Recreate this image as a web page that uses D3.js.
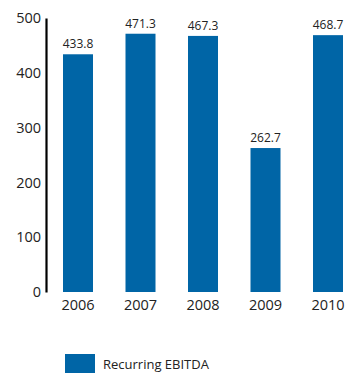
<!DOCTYPE html>
<html>
<head>
<meta charset="utf-8">
<script src="https://cdn.jsdelivr.net/npm/d3@7"></script>
<style>
  html, body { margin: 0; padding: 0; background: #fff; }
  text { font-family: "Open Sans", "Noto Sans", sans-serif; fill: #222; }
</style>
</head>
<body>
<svg id="chart" width="350" height="380"></svg>
<script>
// Recurring EBITDA by year
const years = ["2006", "2007", "2008", "2009", "2010"];
const ebitda = [433.8, 471.3, 467.3, 262.7, 468.7];
const yTicks = [0, 100, 200, 300, 400, 500];
const seriesName = "Recurring EBITDA";

const barColor = "#0065a6";
const svg = d3.select("#chart");

const x = d3.scaleBand()
  .domain(years)
  .range([47, 359])
  .paddingInner(0.52)
  .paddingOuter(0.256);

const y = d3.scaleLinear()
  .domain([0, 500])
  .range([292, 18]);

// Y axis: plain vertical rule with labels, no tick marks
const yAxis = svg.append("g")
  .attr("transform", "translate(46,0)")
  .call(d3.axisLeft(y).tickValues(yTicks).tickSize(0).tickPadding(5));
yAxis.select(".domain").attr("stroke", "#000").attr("stroke-width", 2.2);
yAxis.selectAll("text")
  .style("font-size", "14.5px")
  .attr("fill", "#222");

// Bars
svg.append("g").selectAll("rect")
  .data(years.map((yr, i) => ({ yr, v: ebitda[i] })))
  .join("rect")
  .attr("x", d => x(d.yr))
  .attr("y", d => y(d.v))
  .attr("width", x.bandwidth())
  .attr("height", d => y(0) - y(d.v))
  .attr("fill", barColor);

// Value labels above bars
svg.append("g").selectAll("text")
  .data(years.map((yr, i) => ({ yr, v: ebitda[i] })))
  .join("text")
  .attr("x", d => x(d.yr) + x.bandwidth() / 2)
  .attr("y", d => y(d.v) - 6)
  .attr("text-anchor", "middle")
  .style("font-size", "12px")
  .attr("fill", "#333")
  .text(d => d3.format(".1f")(d.v));

// X axis labels
const xAxis = svg.append("g")
  .attr("transform", "translate(0,292)")
  .call(d3.axisBottom(x).tickSize(0).tickPadding(8));
xAxis.select(".domain").remove();
xAxis.selectAll("text")
  .style("font-size", "14.5px")
  .attr("fill", "#222");

// Legend
const legend = svg.append("g").attr("transform", "translate(65,354)");
legend.append("rect")
  .attr("width", 30)
  .attr("height", 19)
  .attr("fill", barColor);
legend.append("text")
  .attr("x", 38)
  .attr("y", 15)
  .style("font-size", "13px")
  .attr("fill", "#222")
  .text(seriesName);
</script>
</body>
</html>
